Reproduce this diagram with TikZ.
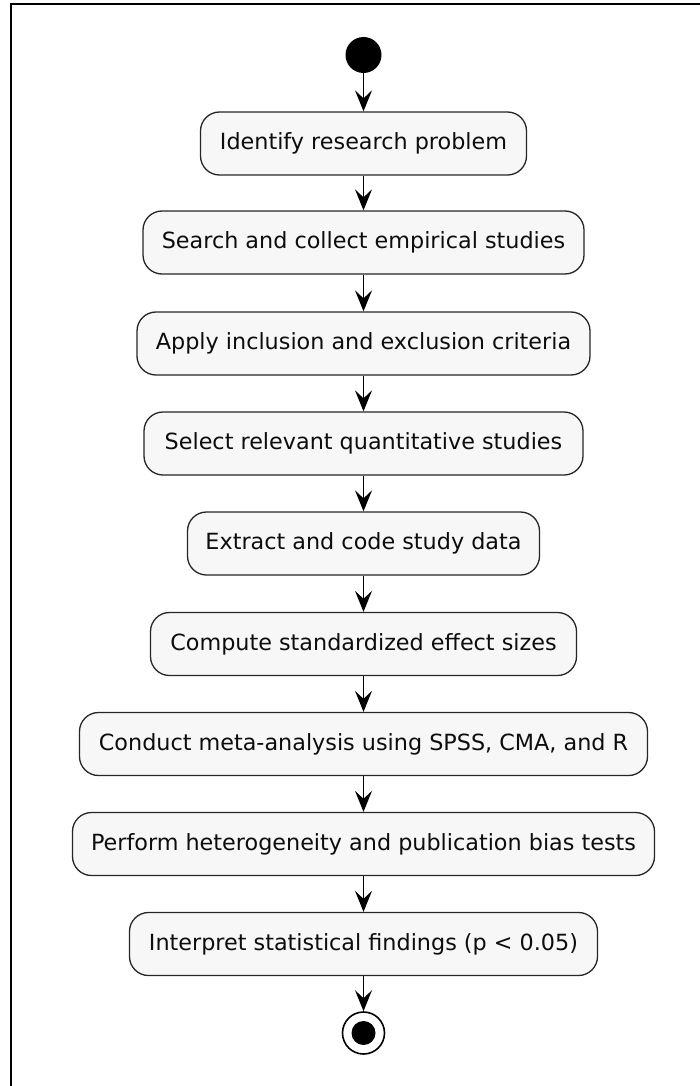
\documentclass[tikz,border=0pt]{standalone}
\usepackage{fontspec}
\setmainfont{DejaVu Sans}
\usetikzlibrary{arrows.meta}
\begin{document}
\begin{tikzpicture}[x=1pt,y=-1pt,
  act/.style={draw=black!85, line width=1.3pt, fill=black!3, rounded corners=19pt,
    minimum height=63pt, inner xsep=0pt, inner ysep=0pt,
    font=\fontsize{22.3}{26}\selectfont, text=black!95},
  flow/.style={line width=1.6pt, draw=black,
    -{Stealth[length=21pt,width=17pt,inset=8pt]}},
  startdot/.style={circle, fill=black, minimum size=36pt, inner sep=0pt},
  enddot/.style={circle, draw=black, line width=1.6pt, fill=white, minimum size=42pt, inner sep=0pt,
    path picture={\fill[black] (path picture bounding box.center) circle (12pt);}}]
\useasboundingbox (0,0) rectangle (700,1086);
% frame (top and left edges)
\draw[line width=2pt] (11,1086) -- (11,4) -- (700,4);

\node[startdot] (start) at (363.5,55) {};
\node[act, minimum width=326pt] (s1) at (363.5,143.5) {Identify research problem};
\node[act, minimum width=441pt] (s2) at (363.5,242.5) {Search and collect empirical studies};
\node[act, minimum width=453pt] (s3) at (363.5,343.5) {Apply inclusion and exclusion criteria};
\node[act, minimum width=439pt] (s4) at (363.5,443.5) {Select relevant quantitative studies};
\node[act, minimum width=352pt] (s5) at (363.5,543.5) {Extract and code study data};
\node[act, minimum width=426pt] (s6) at (363.5,644) {Compute standardized effect sizes};
\node[act, minimum width=568pt] (s7) at (363.5,744) {Conduct meta-analysis using SPSS, CMA, and R};
\node[act, minimum width=582pt] (s8) at (363.5,844) {Perform heterogeneity and publication bias tests};
\node[act, minimum width=468pt] (s9) at (363.5,944) {Interpret statistical findings (p < 0.05)};
\node[enddot] (end) at (363.5,1033) {};

\draw[flow] (start) -- (s1);
\draw[flow] (s1) -- (s2);
\draw[flow] (s2) -- (s3);
\draw[flow] (s3) -- (s4);
\draw[flow] (s4) -- (s5);
\draw[flow] (s5) -- (s6);
\draw[flow] (s6) -- (s7);
\draw[flow] (s7) -- (s8);
\draw[flow] (s8) -- (s9);
\draw[flow] (s9) -- (end);
\end{tikzpicture}
\end{document}
